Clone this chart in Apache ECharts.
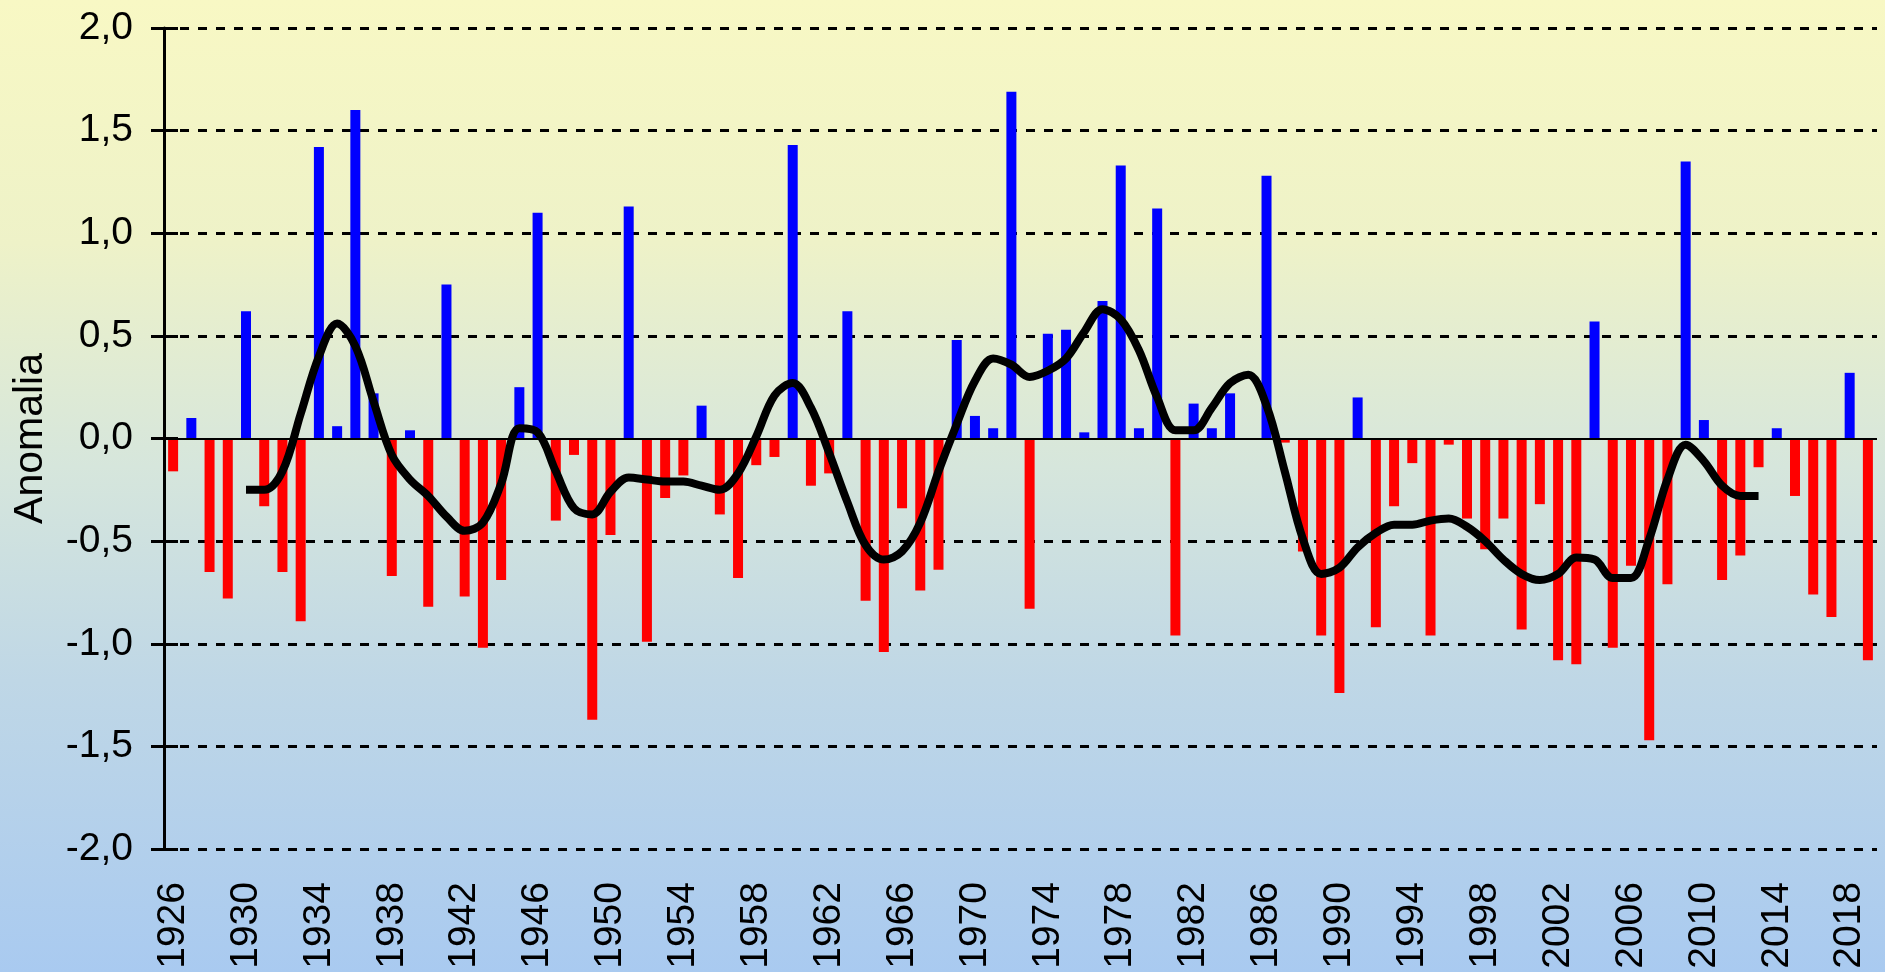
<!DOCTYPE html>
<html>
<head>
<meta charset="utf-8">
<script src="https://cdn.jsdelivr.net/npm/echarts@6/dist/echarts.min.js"></script>
<style>
html,body{margin:0;padding:0;}
#chart{width:1885px;height:972px;background:linear-gradient(to bottom,#f8f8c4 0%,#eef2c8 25%,#d6e6dc 48%,#bfd7e6 70%,#a9caf0 100%);}
</style>
</head>
<body>
<div id="chart"></div>
<script>
var years = [];
for (var y = 1926; y <= 2019; y++) years.push(String(y));

var anomalies = [
  -0.16, 0.10, -0.65, -0.78, 0.62, -0.33, -0.65, -0.89, 1.42, 0.06,
  1.60, 0.22, -0.67, 0.04, -0.82, 0.75, -0.77, -1.02, -0.69, 0.25,
  1.10, -0.40, -0.08, -1.37, -0.47, 1.13, -0.99, -0.29, -0.18, 0.16,
  -0.37, -0.68, -0.13, -0.09, 1.43, -0.23, -0.17, 0.62, -0.79, -1.04,
  -0.34, -0.74, -0.64, 0.48, 0.11, 0.05, 1.69, -0.83, 0.51, 0.53,
  0.03, 0.67, 1.33, 0.05, 1.12, -0.96, 0.17, 0.05, 0.22, 0.00,
  1.28, -0.02, -0.55, -0.96, -1.24, 0.20, -0.92, -0.33, -0.12, -0.96,
  -0.03, -0.39, -0.54, -0.39, -0.93, -0.32, -1.08, -1.10, 0.57, -1.02,
  -0.62, -1.47, -0.71, 1.35, 0.09, -0.69, -0.57, -0.14, 0.05, -0.28,
  -0.76, -0.87, 0.32, -1.08
];

// smoothed curve, 1930..2013
var smoothStart = 1930;
var smoothValues = [
  -0.25, -0.25, -0.16, 0.12, 0.40, 0.56, 0.45, 0.18, -0.08, -0.20,
  -0.28, -0.38, -0.45, -0.41, -0.22, 0.05, 0.03, -0.16, -0.34, -0.37,
  -0.26, -0.19, -0.20, -0.21, -0.21, -0.23, -0.25, -0.17, 0.01, 0.21,
  0.27, 0.15, -0.07, -0.31, -0.52, -0.59, -0.55, -0.41, -0.16, 0.07,
  0.28, 0.39, 0.36, 0.30, 0.33, 0.39, 0.52, 0.63, 0.58, 0.43,
  0.20, 0.04, 0.04, 0.15, 0.27, 0.31, 0.16, -0.16, -0.49, -0.66,
  -0.63, -0.53, -0.46, -0.42, -0.42, -0.40, -0.39, -0.43, -0.50, -0.59,
  -0.66, -0.69, -0.66, -0.58, -0.59, -0.68, -0.68, -0.49, -0.20, -0.03,
  -0.11, -0.23, -0.28, -0.28
];

var yTicks = { min: -2, max: 2, interval: 0.5 };

var lineData = years.map(function (yr) {
  var k = Number(yr) - smoothStart;
  return (k >= 0 && k < smoothValues.length) ? smoothValues[k] : null;
});

var chart = echarts.init(document.getElementById('chart'), null, { renderer: 'canvas' });
var font = '"Liberation Sans", Arial, sans-serif';
var gridColors = ['#000', '#000', '#000', '#000', 'rgba(0,0,0,0)', '#000', '#000', '#000', '#000'];

chart.setOption({
  backgroundColor: 'transparent',
  animation: false,
  grid: { left: 164, right: 8, top: 28, bottom: 123, containLabel: false, outerBoundsMode: 'none' },
  xAxis: {
    type: 'category',
    data: years,
    boundaryGap: true,
    axisLine: { show: false },
    axisTick: { show: false },
    splitLine: { show: false },
    axisLabel: {
      interval: 3,
      rotate: 90,
      margin: 33,
      color: '#000',
      fontFamily: font,
      fontSize: 39
    }
  },
  yAxis: [{
    type: 'value',
    min: yTicks.min, max: yTicks.max, interval: yTicks.interval,
    name: 'Anomalia',
    nameLocation: 'middle',
    nameRotate: 90,
    nameGap: 113,
    nameTextStyle: { color: '#000', fontFamily: font, fontSize: 41 },
    axisLine: { show: true, lineStyle: { color: '#000', width: 3 } },
    axisTick: { show: true, inside: false, length: 13, lineStyle: { color: '#000', width: 3 } },
    axisLabel: {
      margin: 31,
      color: '#000',
      fontFamily: font,
      fontSize: 39,
      formatter: function (v) { return v.toFixed(1).replace('.', ','); }
    },
    splitLine: {
      show: true,
      lineStyle: { color: gridColors, width: 3, type: [9, 9], dashOffset: -16 }
    }
  }, {
    type: 'value',
    position: 'left',
    min: yTicks.min, max: yTicks.max, interval: yTicks.interval,
    axisLine: { show: false },
    axisTick: { show: true, inside: true, length: 14, lineStyle: { color: '#000', width: 3 } },
    axisLabel: { show: false },
    splitLine: { show: false }
  }],
  series: [{
    type: 'bar',
    data: anomalies,
    barWidth: 10,
    itemStyle: {
      color: function (p) { return p.value >= 0 ? '#0000ff' : '#ff0000'; }
    },
    markLine: {
      silent: true,
      symbol: 'none',
      label: { show: false },
      lineStyle: { color: '#000', width: 2, type: 'solid' },
      data: [{ yAxis: 0 }]
    },
    z: 2
  }, {
    type: 'line',
    data: lineData,
    smooth: 0.35,
    showSymbol: false,
    connectNulls: false,
    lineStyle: { color: '#000', width: 8 },
    z: 5
  }]
});
</script>
</body>
</html>
